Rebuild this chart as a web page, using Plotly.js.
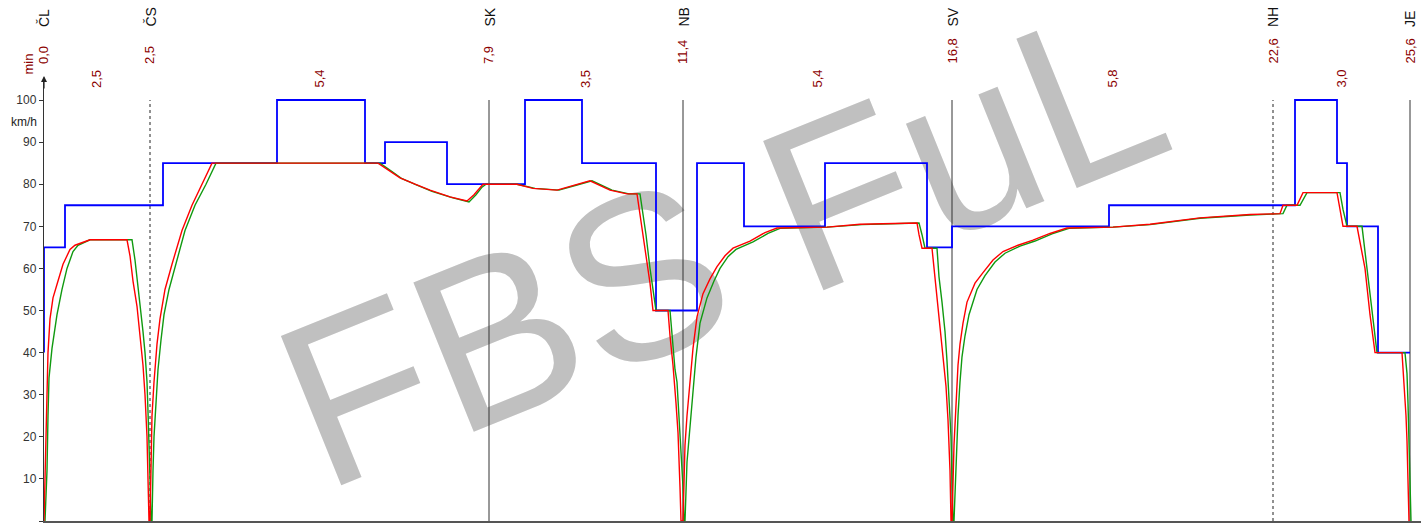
<!DOCTYPE html>
<html>
<head>
<meta charset="utf-8">
<script src="https://cdn.plot.ly/plotly-3.0.1.min.js"></script>
<style>html,body{margin:0;padding:0;background:#fff;}#chart{width:1421px;height:524px;}</style>
</head>
<body>
<div id="chart"></div>
<script>
// Stations (distance in km along the line)
const stationNames = ["ČL", "ČS", "SK", "NB", "SV", "NH", "JE"];
const stationKm = [0, 1.06, 4.45, 6.39, 9.08, 12.29, 13.66];
const stationTime = ["0,0", "2,5", "7,9", "11,4", "16,8", "22,6", "25,6"];
const stationDotted = [false, true, false, false, false, true, false];
const segmentTime = ["2,5", "5,4", "3,5", "5,4", "5,8", "3,0"];

// Speed limit (step line)
const limitKm = [0, 0, 0.21, 1.19, 2.33, 3.21, 3.41, 4.03, 4.81, 5.38, 6.12, 6.53, 7.00, 7.81, 8.83, 9.08, 10.65, 12.51, 12.93, 13.03, 13.34, 13.66];
const limitSpeed = [40, 65, 75, 85, 100, 85, 90, 80, 100, 85, 50, 85, 70, 85, 65, 70, 75, 100, 85, 70, 40, 40];

// Run 1 (red)
const redKm = [0, 0.02, 0.03, 0.04, 0.06, 0.09, 0.14, 0.19, 0.26, 0.31, 0.46, 0.83, 0.86, 0.89, 0.93, 0.96, 0.99, 1.01, 1.03, 1.04, 1.05,
  1.06, 1.07, 1.08, 1.10, 1.13, 1.16, 1.21, 1.28, 1.38, 1.48, 1.58, 1.68, 3.34, 3.46, 3.56, 3.71, 3.86, 4.06, 4.23, 4.30, 4.36, 4.39, 4.73,
  4.89, 5.13, 5.31, 5.46, 5.66, 5.83, 5.93, 5.96, 5.99, 6.03, 6.06, 6.09, 6.24, 6.26, 6.29, 6.32, 6.34, 6.36, 6.37,
  6.39, 6.41, 6.43, 6.46, 6.49, 6.53, 6.59, 6.66, 6.73, 6.81, 6.89, 7.06, 7.21, 7.33, 7.83, 8.16, 8.73, 8.75, 8.78, 8.88, 8.91, 8.93, 8.96, 8.99, 9.02, 9.04, 9.06, 9.07,
  9.08, 9.10, 9.12, 9.14, 9.16, 9.19, 9.23, 9.31, 9.39, 9.49, 9.59, 9.74, 9.89, 10.06, 10.23, 10.69, 11.06, 11.56, 12.06, 12.36, 12.39, 12.53, 12.59, 12.93, 12.96, 12.99, 13.13, 13.17, 13.21, 13.26, 13.31, 13.58, 13.60, 13.62, 13.63, 13.64, 13.65];
const redSpeed = [0, 20, 33, 40, 48, 53, 57, 61, 64.5, 65.5, 66.8, 66.8, 63, 57, 51, 44, 37, 30, 20, 10, 0,
  0, 15, 25, 33, 42, 48, 55, 61, 69, 75, 80, 85, 85, 83, 81.5, 80, 78.6, 77, 76, 77.5, 79.3, 80, 80,
  79, 78.6, 79.8, 80.8, 78.6, 77.7, 77.7, 73, 68.4, 62, 56.5, 50, 50, 44, 37, 28, 21, 8, 0,
  0, 18, 25, 33, 41, 48.5, 54, 57.5, 60.4, 63, 64.8, 66.5, 68.5, 69.6, 69.8, 70.5, 70.8, 68, 64.8, 64.8, 58, 52.5, 46, 40, 32, 24, 12, 0,
  0, 18, 28, 37, 42, 47, 52, 56.5, 59, 62, 64, 65.5, 66.7, 68.3, 69.6, 69.8, 70.5, 72, 72.8, 73, 75, 75, 78, 78, 74, 70, 70, 65, 60, 49, 40, 40, 33, 25, 19, 8, 0];

// Run 2 (green)
const greenKm = [0.01, 0.03, 0.04, 0.05, 0.08, 0.13, 0.18, 0.23, 0.29, 0.34, 0.46, 0.88, 0.91, 0.94, 0.96, 0.99, 1.01, 1.03, 1.04, 1.05, 1.06, 1.07,
  1.08, 1.09, 1.10, 1.12, 1.14, 1.17, 1.20, 1.25, 1.32, 1.41, 1.51, 1.62, 1.72, 3.36, 3.48, 3.58, 3.73, 3.88, 4.08, 4.25, 4.32, 4.38, 4.42, 4.73,
  4.91, 5.15, 5.33, 5.48, 5.68, 5.85, 5.96, 5.99, 6.02, 6.06, 6.10, 6.12, 6.26, 6.29, 6.31, 6.33, 6.35, 6.37, 6.39, 6.40,
  6.41, 6.43, 6.46, 6.49, 6.52, 6.56, 6.63, 6.70, 6.76, 6.84, 6.92, 7.09, 7.24, 7.36, 7.83, 8.18, 8.75, 8.78, 8.81, 8.93, 8.95, 8.98, 9.01, 9.03, 9.05, 9.07, 9.08, 9.09,
  9.10, 9.12, 9.14, 9.16, 9.18, 9.21, 9.25, 9.33, 9.41, 9.51, 9.61, 9.76, 9.91, 10.08, 10.25, 10.69, 11.06, 11.56, 12.06, 12.39, 12.43, 12.56, 12.63, 12.96, 12.99, 13.03, 13.18, 13.21, 13.24, 13.29, 13.33, 13.61, 13.63, 13.64, 13.65, 13.66, 13.67];
const greenSpeed = [0, 12, 25, 34, 41, 49, 55, 60, 64, 65.5, 66.8, 66.8, 62, 56, 51, 45, 40, 33, 26, 20, 10, 0,
  0, 12, 20, 28, 36, 43, 49, 55, 61, 69, 75, 80, 85, 85, 83, 81.3, 79.8, 78.3, 76.8, 75.8, 77.5, 79.3, 80, 80,
  79, 78.6, 79.8, 80.8, 78.6, 77.7, 77.7, 73, 68, 60, 53, 50, 50, 42, 36, 33, 25, 17, 8, 0,
  0, 14, 22, 31, 39, 47, 53, 57, 60, 62.8, 64.5, 66.3, 68.3, 69.5, 69.8, 70.4, 70.8, 68, 64.8, 64.8, 58, 52, 45, 38, 30, 20, 10, 0,
  0, 14, 25, 33, 39, 44, 49, 55, 58.3, 61.5, 63.6, 65.3, 66.5, 68.2, 69.5, 69.8, 70.4, 71.9, 72.7, 73, 75, 75, 78, 78, 74, 70, 70, 64, 58, 48, 40, 40, 35, 28, 20, 8, 0];

const yTicks = [0, 10, 20, 30, 40, 50, 60, 70, 80, 90, 100];

const FONT = "Liberation Sans, Arial, sans-serif";
const DARKRED = "#8b0000";
const plotH = 441, plotW = 1377, ml = 44, mt = 80;
const py = p => (mt + plotH - p) / plotH;   // pixel row -> paper y
const px = p => (p - ml) / plotW;           // pixel col -> paper x

const traces = [
  {x: limitKm, y: limitSpeed, type: "scatter", mode: "lines", line: {color: "#0000ff", width: 1.8, shape: "hv"}, hoverinfo: "skip"},
  {x: greenKm, y: greenSpeed, type: "scatter", mode: "lines", line: {color: "#109a10", width: 1.4}, hoverinfo: "skip"},
  {x: redKm, y: redSpeed, type: "scatter", mode: "lines", line: {color: "#ff0000", width: 1.4}, hoverinfo: "skip"}
];

// watermark: paper-referenced shape label (not clipped, drawn below the traces)
const shapes = [{
  type: "rect", xref: "paper", yref: "paper", x0: px(705), x1: px(721), y0: py(232), y1: py(216), layer: "below",
  line: {width: 0, color: "rgba(0,0,0,0)"}, fillcolor: "rgba(0,0,0,0)",
  label: {text: "FBS FuL", textangle: -22, textposition: "middle center", font: {family: FONT, size: 234, color: "#c0c0c0"}}
}];
const annotations = [];
stationKm.forEach((k, i) => {
  if (i > 0) {
    shapes.push({type: "line", xref: "x", yref: "y", x0: k, x1: k, y0: 0, y1: 100, layer: "below",
      line: {color: stationDotted[i] ? "#222" : "#333", width: 1, dash: stationDotted[i] ? "dot" : "solid"}});
  }
  annotations.push({xref: "x", yref: "paper", x: k, y: py(29), yanchor: "bottom", xanchor: "center", text: stationNames[i],
    textangle: -90, showarrow: false, font: {family: FONT, size: 14, color: "#111"}});
  annotations.push({xref: "x", yref: "paper", x: k, y: py(66), yanchor: "bottom", xanchor: "center", text: stationTime[i],
    textangle: -90, showarrow: false, font: {family: FONT, size: 13, color: DARKRED}});
});
segmentTime.forEach((t, i) => {
  annotations.push({xref: "x", yref: "paper", x: (stationKm[i] + stationKm[i + 1]) / 2, y: py(90), yanchor: "bottom", xanchor: "center",
    text: t, textangle: -90, showarrow: false, font: {family: FONT, size: 13, color: DARKRED}});
});
annotations.push({xref: "paper", yref: "paper", x: px(28), y: py(77), yanchor: "bottom", xanchor: "center", text: "min",
  textangle: -90, showarrow: false, font: {family: FONT, size: 13, color: DARKRED}});
annotations.push({xref: "paper", yref: "paper", x: px(24), y: py(122), yanchor: "middle", xanchor: "center", text: "km/h",
  showarrow: false, font: {family: FONT, size: 12, color: "#222"}});
annotations.push({xref: "paper", yref: "paper", x: 0, y: py(76), ax: 0, ay: 14, text: "", showarrow: true,
  arrowhead: 2, arrowsize: 1, arrowwidth: 1.2, arrowcolor: "#222"});

const layout = {
  width: 1421, height: 524,
  margin: {l: ml, r: 0, t: mt, b: 3, pad: 0},
  paper_bgcolor: "#fff", plot_bgcolor: "rgba(0,0,0,0)",
  showlegend: false,
  font: {family: FONT, size: 12, color: "#222"},
  xaxis: {range: [0, 13.77], showgrid: false, zeroline: false, showticklabels: false, ticks: "",
    showline: true, linecolor: "#555", linewidth: 2, fixedrange: true},
  yaxis: {range: [0, 104.75], showgrid: false, zeroline: false, tickvals: yTicks, ticktext: yTicks.map(String),
    ticks: "outside", ticklen: 4, tickcolor: "#333", tickfont: {family: FONT, size: 12, color: "#333"},
    showline: true, linecolor: "#333", linewidth: 1.2, fixedrange: true},
  shapes: shapes,
  annotations: annotations
};
Plotly.newPlot("chart", traces, layout, {staticPlot: true, displayModeBar: false});
</script>
</body>
</html>
